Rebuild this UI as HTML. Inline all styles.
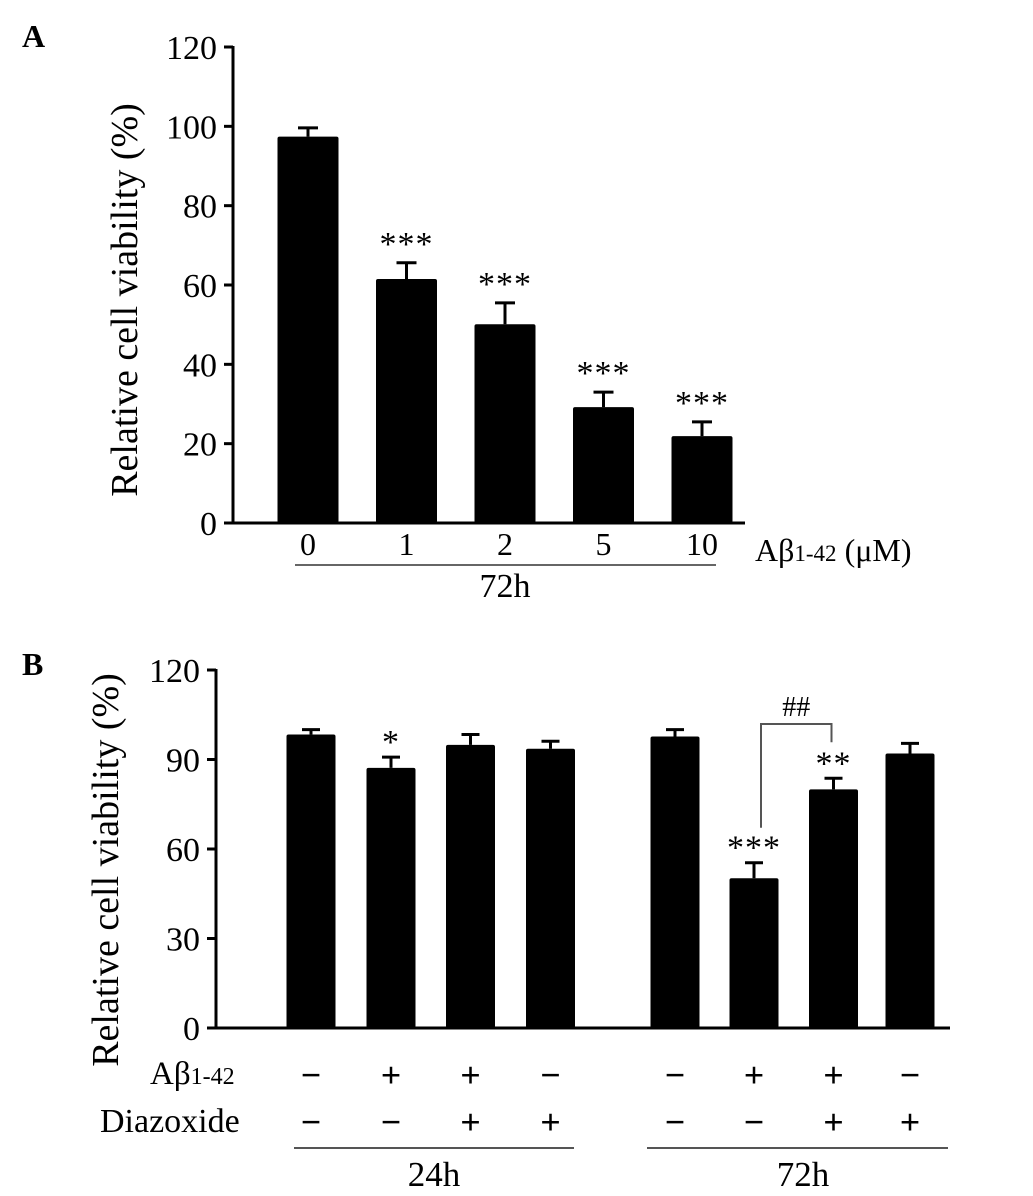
<!DOCTYPE html>
<html><head><meta charset="utf-8"><style>
html,body{margin:0;padding:0;background:#fff;}
svg{display:block;font-family:"Liberation Serif",serif;}
</style></head><body>
<svg id="fig" width="1033" height="1196" viewBox="0 0 1033 1196">
<text x="22" y="47" font-size="32" font-weight="bold">A</text>
<text x="22" y="675" font-size="32" font-weight="bold">B</text>
<g id="pa"></g>
<g id="pb"></g>
</svg>
<script>
const aCats=["0","1","2","5","10"];
const aVals=[97.4,61.5,50.1,29.2,21.9];
const aErr=[2.2,4.1,5.4,3.8,3.6];
const aSig=["","***","***","***","***"];
const aTicks=[0,20,40,60,80,100,120];

const bVals=[98.4,87.2,94.9,93.6,97.7,50.2,80.0,92.0];
const bErr=[1.6,3.6,3.5,2.5,2.3,5.2,3.7,3.4];
const bSig=["","*","","","","***","**",""];
const bAbeta=["−","+","+","−","−","+","+","−"];
const bDiaz=["−","−","+","+","−","−","+","+"];
const bTicks=[0,30,60,90,120];

const NS="http://www.w3.org/2000/svg";
function mk(p,tag,attrs,txt){const e=document.createElementNS(NS,tag);for(const k in attrs)e.setAttribute(k,attrs[k]);if(txt!==undefined)e.textContent=txt;p.appendChild(e);return e;}

// Panel A
const pa=document.getElementById('pa');
const ayA=v=>523-v*(476/120);
const axA=i=>308+i*98.5;
const bwA=61;
let e;
e=mk(pa,'line',{x1:233,y1:46,x2:233,y2:524,stroke:'#000','stroke-width':3});


e=mk(pa,'line',{x1:224,y1:523,x2:745,y2:523,stroke:'#000','stroke-width':3});


aTicks.forEach(t=>{
  mk(pa,'line',{x1:224,y1:ayA(t),x2:233,y2:ayA(t),stroke:'#000','stroke-width':3});
  e=mk(pa,'text',{x:217,y:ayA(t)+12,'font-size':34,'text-anchor':'end'},String(t));
  
  
});
aVals.forEach((v,i)=>{
  const cx=axA(i);
  const top=ayA(v), cap=ayA(v+aErr[i]);
  mk(pa,'line',{x1:cx,y1:top,x2:cx,y2:cap,stroke:'#000','stroke-width':3});
  mk(pa,'line',{x1:cx-10,y1:cap,x2:cx+10,y2:cap,stroke:'#000','stroke-width':3});
  e=mk(pa,'rect',{x:cx-bwA/2,y:top,width:bwA,height:523-top,fill:'#000',rx:2});
  
  
  if(aSig[i]){
    e=mk(pa,'text',{x:cx,y:cap-8,'font-size':34,'text-anchor':'middle','letter-spacing':1},aSig[i]);
    
    
  }
  e=mk(pa,'text',{x:cx,y:555,'font-size':32,'text-anchor':'middle'},aCats[i]);
  
  
});
e=mk(pa,'line',{x1:295,y1:565,x2:716,y2:565,stroke:'#666','stroke-width':2});


e=mk(pa,'text',{x:505,y:597,'font-size':34,'text-anchor':'middle'},'72h');


e=mk(pa,'text',{x:755,y:561,'font-size':32},'');


e.innerHTML='Aβ<tspan font-size="23">1-42</tspan> (μM)';
e=mk(pa,'text',{x:0,y:0,'font-size':38,'text-anchor':'middle',transform:'translate(137,300) rotate(-90)'},'Relative cell viability  (%)');



// Panel B
const pb=document.getElementById('pb');
const ayB=v=>1028-v*(358/120);
const bCenters=[311,391,470.5,550.5,675,754,833.5,910];
const axB=i=>bCenters[i];
const bwB=49;
e=mk(pb,'line',{x1:216,y1:669,x2:216,y2:1029,stroke:'#000','stroke-width':3});


e=mk(pb,'line',{x1:207,y1:1028,x2:950,y2:1028,stroke:'#000','stroke-width':3});


bTicks.forEach(t=>{
  mk(pb,'line',{x1:207,y1:ayB(t),x2:216,y2:ayB(t),stroke:'#000','stroke-width':3});
  e=mk(pb,'text',{x:200,y:ayB(t)+12,'font-size':34,'text-anchor':'end'},String(t));
  
  
});
bVals.forEach((v,i)=>{
  const cx=axB(i);
  const top=ayB(v), cap=ayB(v+bErr[i]);
  mk(pb,'line',{x1:cx,y1:top,x2:cx,y2:cap,stroke:'#000','stroke-width':3});
  mk(pb,'line',{x1:cx-9,y1:cap,x2:cx+9,y2:cap,stroke:'#000','stroke-width':3});
  e=mk(pb,'rect',{x:cx-bwB/2,y:top,width:bwB,height:1028-top,fill:'#000',rx:2});
  
  
  if(bSig[i]){
    e=mk(pb,'text',{x:cx,y:cap-4,'font-size':34,'text-anchor':'middle','letter-spacing':1},bSig[i]);
    
    
  }
  e=mk(pb,'text',{x:cx,y:1087,'font-size':36,'font-weight':'bold','text-anchor':'middle'},bAbeta[i]);
  
  
  e=mk(pb,'text',{x:cx,y:1134,'font-size':36,'font-weight':'bold','text-anchor':'middle'},bDiaz[i]);
  
  
});
// comparison bracket between bar 6 and 7
const bx1=axB(5)+7, bx2=axB(6)-2, by=724;
e=mk(pb,'path',{d:`M${bx1} ${ayB(bVals[5]+bErr[5])-35} V${by} H${bx2} V${ayB(bVals[6]+bErr[6])-36}`,fill:'none',stroke:'#555','stroke-width':2});


e=mk(pb,'text',{x:(bx1+bx2)/2,y:by-8,'font-size':28,'text-anchor':'middle'},'##');


e=mk(pb,'text',{x:150,y:1084,'font-size':33},'');


e.innerHTML='Aβ<tspan font-size="24">1-42</tspan>';
e=mk(pb,'text',{x:100,y:1132,'font-size':34},'Diazoxide');


e=mk(pb,'line',{x1:294,y1:1148,x2:574,y2:1148,stroke:'#555','stroke-width':2});


e=mk(pb,'line',{x1:647,y1:1148,x2:948,y2:1148,stroke:'#555','stroke-width':2});


e=mk(pb,'text',{x:434,y:1186,'font-size':35,'text-anchor':'middle'},'24h');


e=mk(pb,'text',{x:803,y:1186,'font-size':35,'text-anchor':'middle'},'72h');


e=mk(pb,'text',{x:0,y:0,'font-size':38,'text-anchor':'middle',transform:'translate(118,870) rotate(-90)'},'Relative cell viability (%)');


</script>
</body></html>
